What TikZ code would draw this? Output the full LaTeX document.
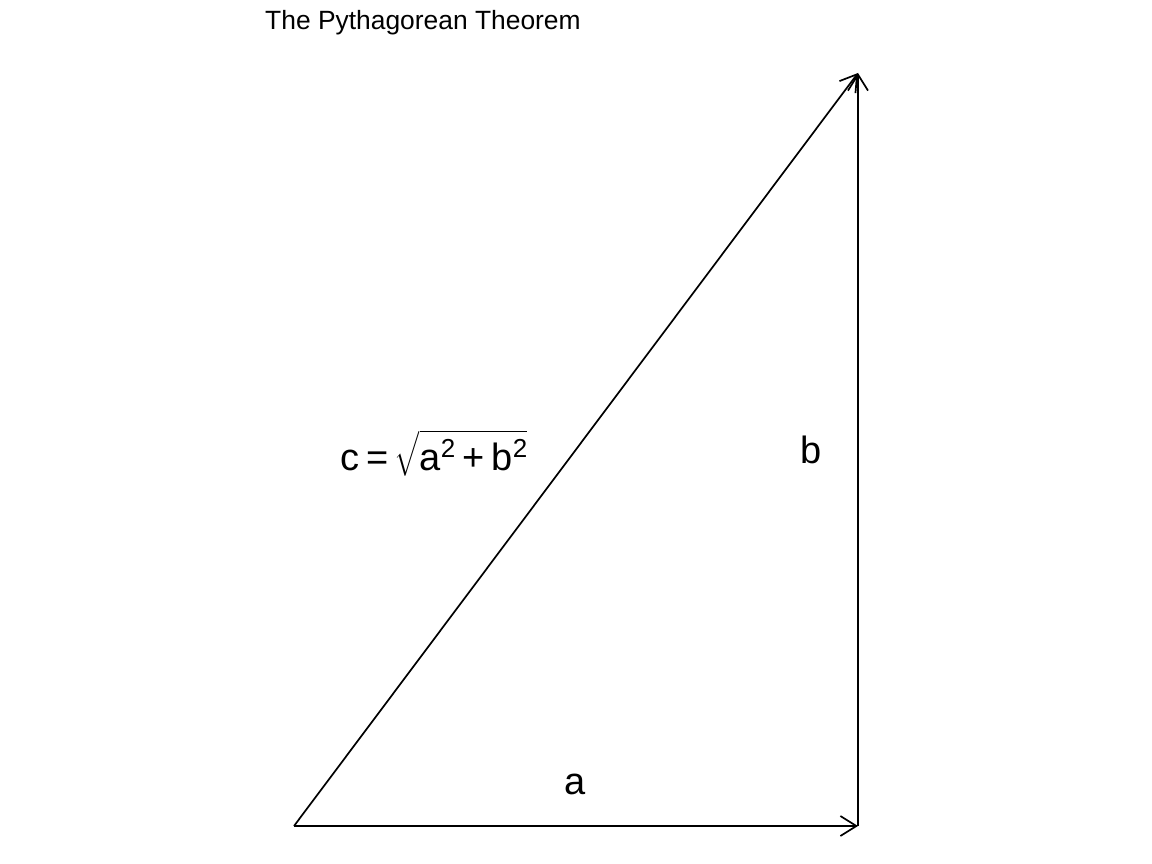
\documentclass[tikz,border=0pt]{standalone}
\usepackage{amsmath}
\usepackage{fontspec}
\setmainfont{Liberation Sans}
\usetikzlibrary{arrows.meta}
\newcommand{\supr}[1]{\raisebox{13pt}{\fontsize{26}{30}\selectfont #1}}
\tikzset{
  vec/.style={line width=1.7pt, -{Straight Barb[length=16pt,width=20pt,line width=1.7pt]}},
  lbl/.style={font=\fontsize{38}{45}\selectfont, inner sep=0pt, anchor=base},
  ttl/.style={font=\fontsize{26.4}{31}\selectfont, inner sep=0pt, anchor=base west}
}
\begin{document}
\begin{tikzpicture}[x=1pt,y=-1pt]
\useasboundingbox (0,0) rectangle (1152,864);
\coordinate (O) at (294,826);
\coordinate (A) at (858,826);
\coordinate (B) at (858,73);
\draw[vec] (O) -- (A);
\draw[vec] (A) -- (B);
\draw[vec] (O) -- (B);
\node[ttl] (title) at (265,30) {The Pythagorean Theorem};
\node[lbl] (la) at (575,794) {a};
\node[lbl] (lb) at (811,463) {b};
\node[lbl] (lc) at (434,470) {c\hspace{7pt}=\hspace{6pt}$\sqrt{\text{a\supr{2}\hspace{7pt}+\hspace{7pt}b\supr{2}}}$};
\end{tikzpicture}
\end{document}
